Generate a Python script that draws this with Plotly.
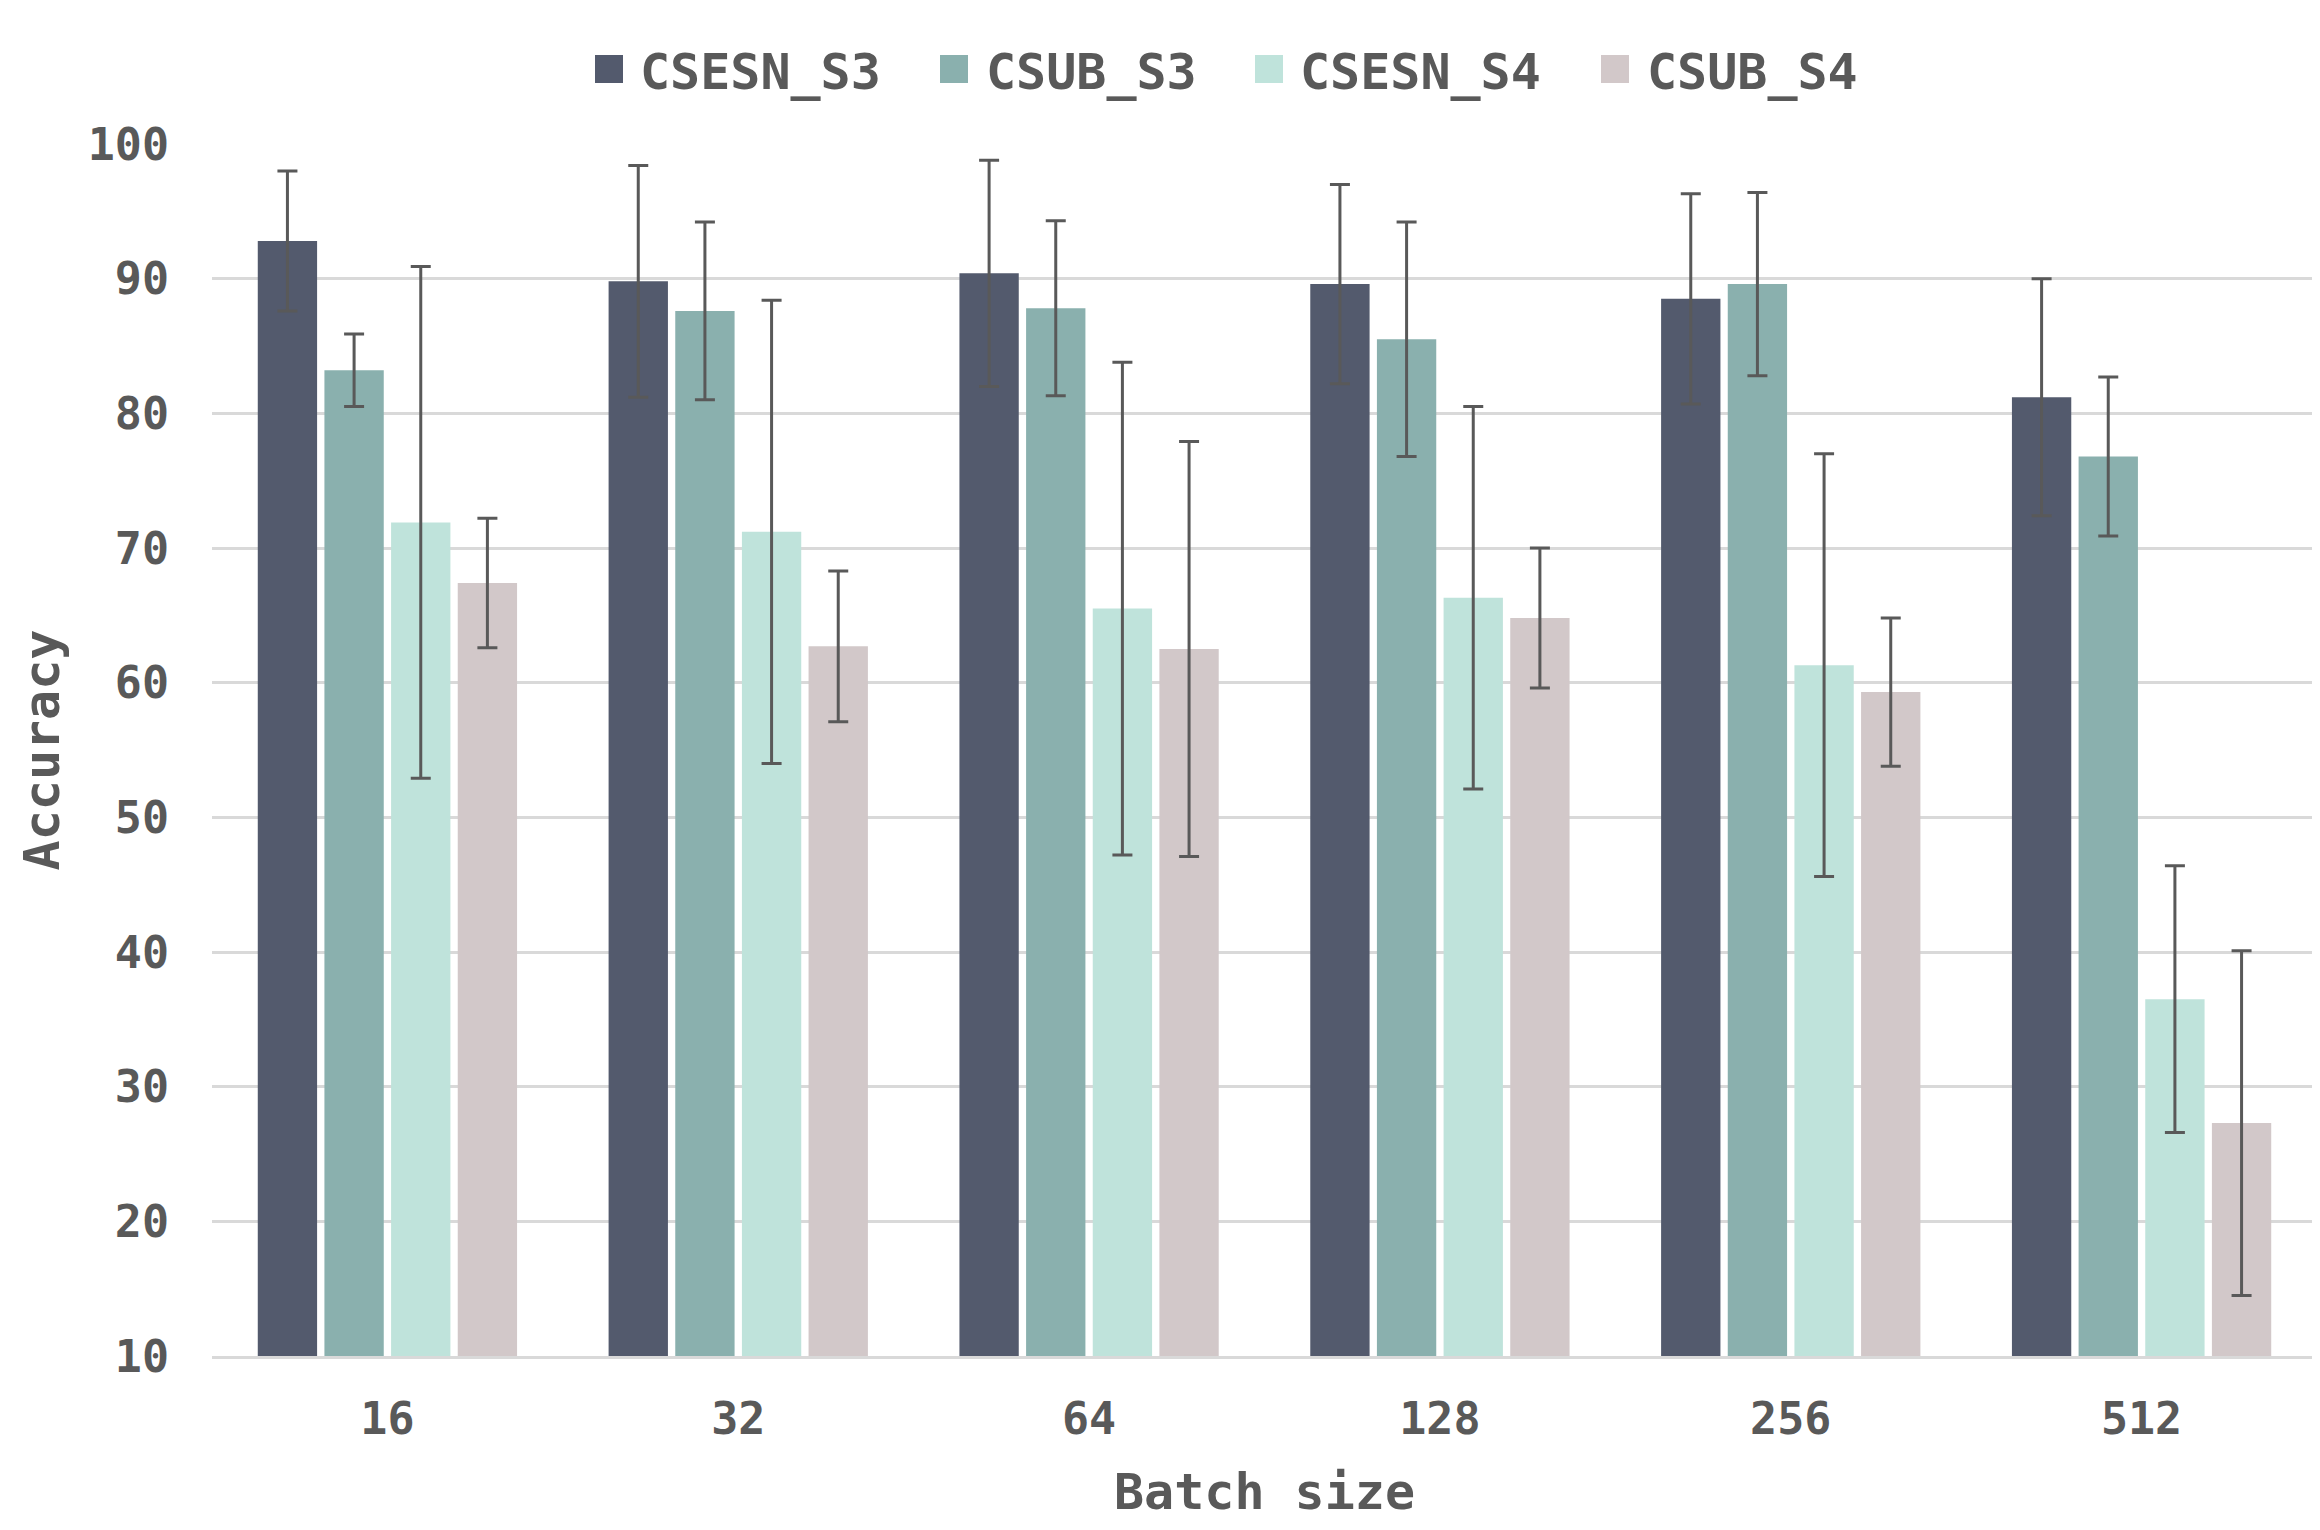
import plotly.graph_objects as go

batch_sizes = ["16", "32", "64", "128", "256", "512"]
series_names = ["CSESN_S3", "CSUB_S3", "CSESN_S4", "CSUB_S4"]
colors = ["#535a6d", "#8ab0ae", "#bfe3db", "#d2c8c9"]

csesn_s3 = [92.8, 89.8, 90.4, 89.6, 88.5, 81.2]
csesn_s3_err = [5.2, 8.6, 8.4, 7.4, 7.8, 8.8]
csub_s3 = [83.2, 87.6, 87.8, 85.5, 89.6, 76.8]
csub_s3_err = [2.7, 6.6, 6.5, 8.7, 6.8, 5.9]
csesn_s4 = [71.9, 71.2, 65.5, 66.3, 61.3, 36.5]
csesn_s4_err = [19.0, 17.2, 18.3, 14.2, 15.7, 9.9]
csub_s4 = [67.4, 62.7, 62.5, 64.8, 59.3, 27.3]
csub_s4_err = [4.8, 5.6, 15.4, 5.2, 5.5, 12.8]

values = [csesn_s3, csub_s3, csesn_s4, csub_s4]
errors = [csesn_s3_err, csub_s3_err, csesn_s4_err, csub_s4_err]

y_ticks = [10, 20, 30, 40, 50, 60, 70, 80, 90, 100]

FONT = "DejaVu Sans Mono"
TXT = "#595959"

W, H = 2320, 1530
L, R, T, B = 204, 11, 136, 182
PW, PH = W - L - R, H - T - B


def px_x(fx):
    return (fx - L) / PW


def px_y(fy):
    return 1 - (fy - T) / PH


fig = go.Figure()
for name, vals, errs, col in zip(series_names, values, errors, colors):
    fig.add_trace(go.Bar(
        name=name,
        x=batch_sizes,
        y=vals,
        showlegend=False,
        marker=dict(color=col, line=dict(width=0)),
        error_y=dict(type="data", array=errs, visible=True,
                     color="#595959", thickness=3, width=10),
    ))

# legend swatches + labels (figure-pixel positions)
legend_marker_x = [587, 932, 1247, 1593]
legend_text_x = [630, 976, 1290, 1637]
sw = 28
sy0, sy1 = 47, 75
for name, col, mx, tx in zip(series_names, colors, legend_marker_x, legend_text_x):
    fig.add_shape(type="rect", xref="paper", yref="paper",
                  x0=px_x(mx), x1=px_x(mx + sw), y0=px_y(sy1), y1=px_y(sy0),
                  fillcolor=col, line=dict(width=0), layer="above")
    fig.add_annotation(xref="paper", yref="paper", x=px_x(tx), y=px_y(64),
                       xanchor="left", yanchor="middle", showarrow=False,
                       text=name,
                       font=dict(family=FONT, size=50, color=TXT, weight="bold"))

fig.update_layout(
    width=W, height=H,
    barmode="group",
    bargap=0.24,
    bargroupgap=0.11,
    plot_bgcolor="white",
    paper_bgcolor="white",
    showlegend=False,
    margin=dict(l=L, r=R, t=T, b=B, autoexpand=False),
    font=dict(family=FONT, color=TXT, size=45),
    xaxis=dict(
        type="category",
        tickfont=dict(family=FONT, size=45, color=TXT, weight="bold"),
        ticklabelstandoff=21,
        showgrid=False,
        showline=True, linecolor="#d9d9d9", linewidth=3,
        ticks="",
        title=dict(text="Batch size", standoff=30,
                   font=dict(family=FONT, size=50, color=TXT, weight="bold")),
        automargin=False,
    ),
    yaxis=dict(
        range=[10, 100],
        tickvals=y_ticks,
        tickfont=dict(family=FONT, size=45, color=TXT, weight="bold"),
        ticklabelstandoff=42,
        showgrid=True, gridcolor="#d9d9d9", gridwidth=2.7,
        zeroline=False,
        showline=False,
        ticks="",
        title=dict(text="Accuracy", standoff=12,
                   font=dict(family=FONT, size=50, color=TXT, weight="bold")),
        automargin=False,
    ),
)

fig.write_html("out.html")
